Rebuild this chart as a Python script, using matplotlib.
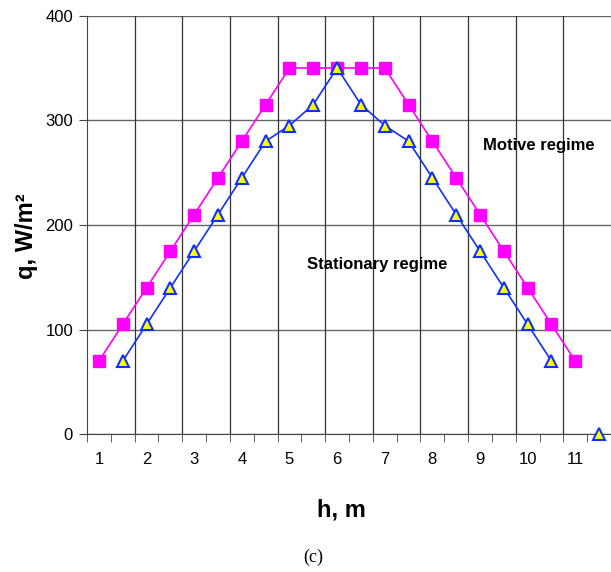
import numpy as np
import matplotlib
matplotlib.use("Agg")
import matplotlib.pyplot as plt
from matplotlib.ticker import FixedLocator

plt.rcParams['font.family'] = ['Liberation Sans', 'DejaVu Sans']

# motive regime (pink squares)
h_motive = [1, 1.5, 2, 2.5, 3, 3.5, 4, 4.5, 5, 5.5, 6, 6.5, 7, 7.5, 8, 8.5, 9, 9.5, 10, 10.5, 11]
q_motive = [70, 105, 140, 175, 210, 245, 280, 315, 350, 350, 350, 350, 350, 315, 280, 245, 210, 175, 140, 105, 70]

# stationary regime (blue triangles), gap at 11
h_stat = [1.5, 2, 2.5, 3, 3.5, 4, 4.5, 5, 5.5, 6, 6.5, 7, 7.5, 8, 8.5, 9, 9.5, 10, 10.5, 11, 11.5]
q_stat = [70, 105, 140, 175, 210, 245, 280, 295, 315, 350, 315, 295, 280, 245, 210, 175, 140, 105, 70, np.nan, 0]

x_labels = [1, 2, 3, 4, 5, 6, 7, 8, 9, 10, 11]

fig = plt.figure(figsize=(6.11, 5.72), dpi=100)
ax = fig.add_axes([0.1424, 0.2407, 0.8576, 0.732])

ax.plot(h_motive, q_motive, color="#FF00FF", marker="s", markersize=8,
        linewidth=1.2, clip_on=False, zorder=3)
ax.plot(h_stat, q_stat, color="#1030FF", marker="^", markersize=8,
        markerfacecolor="#FFFF00", markeredgecolor="#1030FF", markeredgewidth=1.5,
        linewidth=1.2, clip_on=False, zorder=4)

ax.set_xlim(0.75, 11.75)
ax.set_ylim(0, 400)

# category-style x axis: labels at integers, ticks at category borders
ax.set_xticks(x_labels)
ax.set_xticklabels([str(v) for v in x_labels])
ax.xaxis.set_minor_locator(FixedLocator(np.arange(0.75, 11.8, 0.5)))
ax.tick_params(axis="x", which="major", length=0, pad=13, labelsize=12)
ax.tick_params(axis="x", which="minor", length=6, direction="out", color="#444444")
for xg in np.arange(1.75, 11.0, 1.0):
    ax.axvline(xg, color="#333333", linewidth=0.9, zorder=1)

ax.set_yticks([0, 100, 200, 300, 400])
ax.tick_params(axis="y", length=6, direction="out", color="#444444", labelsize=12, pad=4)
ax.yaxis.grid(True, color="#666666", linewidth=1.0)
ax.set_axisbelow(True)

ax.spines["right"].set_visible(False)
ax.spines["top"].set_visible(False)
ax.spines["left"].set_color("#444444")
ax.spines["bottom"].set_color("#444444")

ax.text(6.84, 162, "Stationary regime", fontsize=12, fontweight="bold", ha="center", va="center")
ax.text(10.24, 276, "Motive regime", fontsize=12, fontweight="bold", ha="center", va="center")

fig.text(27 / 611, 1 - 236 / 572, "q, W/m²", fontsize=17, fontweight="bold",
         rotation=90, ha="center", va="center")
fig.text(341 / 611, 1 - 510 / 572, "h, m", fontsize=17, fontweight="bold",
         ha="center", va="center")
fig.text(313 / 611, 1 - 557 / 572, "(c)", fontsize=13, family="Liberation Serif",
         ha="center", va="center")

fig.savefig("out.png", dpi=100)
